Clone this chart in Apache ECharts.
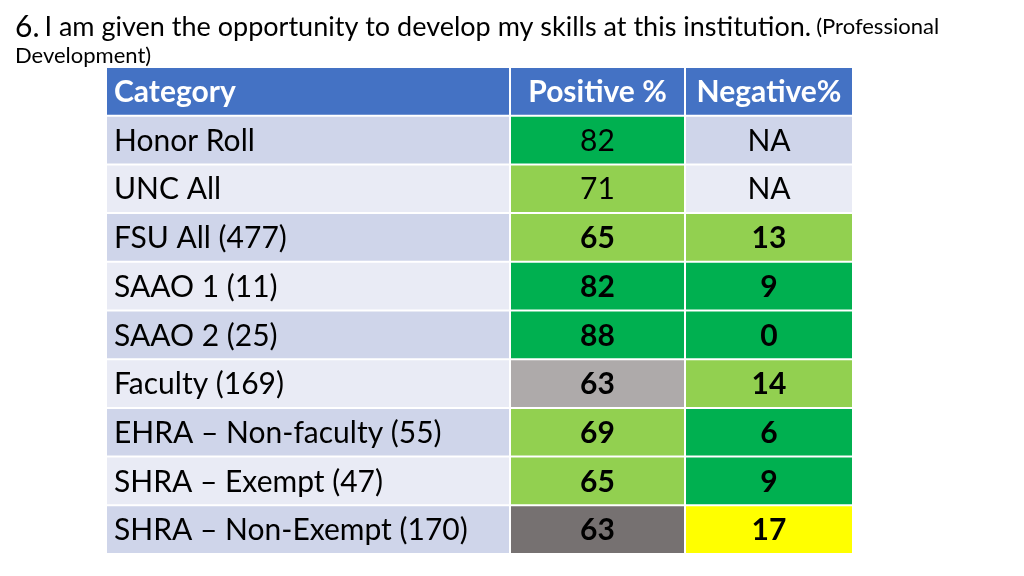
<!DOCTYPE html>
<html>
<head>
<meta charset="utf-8">
<script src="https://cdn.jsdelivr.net/npm/echarts@6/dist/echarts.min.js"></script>
<style>
  html, body { margin: 0; padding: 0; background: #fff; }
  #chart { width: 1024px; height: 576px; }
</style>
</head>
<body>
<div id="chart"></div>
<script>
// table content
var headers = ['Category', 'Positive %', 'Negative%'];
var categories = ['Honor Roll', 'UNC All', 'FSU All (477)', 'SAAO 1 (11)', 'SAAO 2 (25)',
  'Faculty (169)', 'EHRA \u2013 Non-faculty (55)', 'SHRA \u2013 Exempt (47)', 'SHRA \u2013 Non-Exempt (170)'];
var positive = [82, 71, 65, 82, 88, 63, 69, 65, 63];
var negative = ['NA', 'NA', 13, 9, 0, 14, 6, 9, 17];
// cell fills ('row' means the plain striped row colour)
var positiveFill = ['#00B050', '#92D050', '#92D050', '#00B050', '#00B050', '#AEAAAA', '#92D050', '#92D050', '#767171'];
var negativeFill = ['row', 'row', '#92D050', '#00B050', '#00B050', '#92D050', '#00B050', '#00B050', '#FFFF00'];

var FONT = 'Lato, "Open Sans", sans-serif';
var rowNames = ['header'].concat(categories);

function rowColor(i) {
  return i % 2 === 0 ? '#CFD5EA' : '#E9EBF5';
}

// per column: [col, rowName, text, fill, bold(1/0)]
var colData = [[], [], []];
categories.forEach(function (c, i) {
  colData[0].push(['c', c, c, rowColor(i), 0]);
  colData[1].push(['c', c, String(positive[i]), positiveFill[i], i >= 2 ? 1 : 0]);
  colData[2].push(['c', c, String(negative[i]), negativeFill[i] === 'row' ? rowColor(i) : negativeFill[i], i >= 2 ? 1 : 0]);
});
headers.forEach(function (h, k) {
  colData[k].unshift(['c', 'header', h, '#4472C4', 1]);
});

var cols = [
  { left: 106, width: 404, align: 'left' },
  { left: 510, width: 175, align: 'center' },
  { left: 685, width: 168, align: 'center' }
];

var myChart = echarts.init(document.getElementById('chart'));

function makeRender(k, align) {
  return function (params, api) {
    var d = colData[k][params.dataIndex];
    var p = api.coord([d[0], d[1]]);
    var s = api.size([1, 1]);
    var x = p[0] - s[0] / 2, y = p[1] - s[1] / 2;
    var isHeader = d[1] === 'header';
    return {
      type: 'group',
      children: [
        {
          type: 'rect',
          shape: { x: x + 1, y: y + 1, width: s[0] - 2, height: s[1] - 2 },
          style: { fill: d[3] }
        },
        {
          type: 'text',
          x: align === 'left' ? x + 8 : x + s[0] / 2,
          y: y + s[1] / 2 + 1,
          style: {
            text: d[2],
            fill: isHeader ? '#fff' : '#000',
            font: (d[4] ? 'bold ' : '') + '30px ' + FONT,
            align: align,
            verticalAlign: 'middle'
          }
        }
      ]
    };
  };
}

var grids = [], xAxes = [], yAxes = [], series = [];
cols.forEach(function (c, k) {
  grids.push({ left: c.left, width: c.width, top: 67, bottom: 22 });
  xAxes.push({ type: 'category', gridIndex: k, data: ['c'], show: false });
  yAxes.push({ type: 'category', gridIndex: k, data: rowNames, inverse: true, show: false });
  series.push({
    type: 'custom',
    xAxisIndex: k,
    yAxisIndex: k,
    encode: { x: 0, y: 1 },
    data: colData[k].map(function (d) { return [d[0], d[1]]; }),
    renderItem: makeRender(k, c.align),
    silent: true
  });
});

option = {
  animation: false,
  title: {
    left: 10,
    top: 6,
    text: '{a|6.} {b|I am given the opportunity to develop my skills at this institution.} {c|(Professional}\n{c|Development)}',
    textStyle: {
      rich: {
        a: { fontFamily: FONT, fontSize: 30, fontWeight: 'normal', color: '#000', lineHeight: 32 },
        b: { fontFamily: FONT, fontSize: 27, fontWeight: 'normal', color: '#000', lineHeight: 32 },
        c: { fontFamily: FONT, fontSize: 22, fontWeight: 'normal', color: '#000', lineHeight: 26 }
      }
    }
  },
  grid: grids,
  xAxis: xAxes,
  yAxis: yAxes,
  series: series
};
myChart.setOption(option);
</script>
</body>
</html>
